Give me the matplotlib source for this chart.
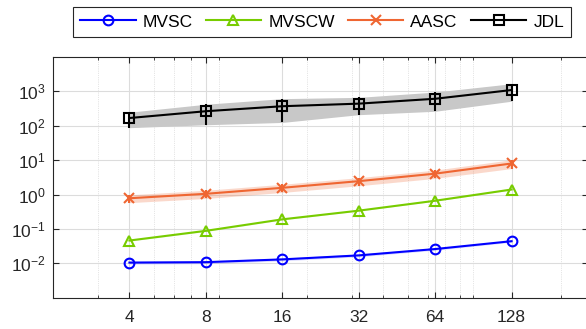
import numpy as np
import matplotlib

matplotlib.use("Agg")
import matplotlib.pyplot as plt
from matplotlib.ticker import LogLocator, NullFormatter, FixedLocator, FixedFormatter

plt.rcParams["font.family"] = ["Liberation Sans", "DejaVu Sans"]
plt.rcParams["mathtext.fontset"] = "custom"
plt.rcParams["mathtext.rm"] = "Liberation Sans"
plt.rcParams["mathtext.default"] = "regular"

# number of views (x axis)
n_views = [4, 8, 16, 32, 64, 128]
x_labels = ["4", "8", "16", "32", "64", "128"]

# running time, mean and spread
mvsc = [0.0105, 0.0108, 0.013, 0.017, 0.026, 0.044]
mvsc_err = [0.001, 0.001, 0.0012, 0.0015, 0.002, 0.003]
mvscw = [0.046, 0.088, 0.19, 0.34, 0.66, 1.4]
mvscw_err = [0.002, 0.004, 0.008, 0.012, 0.02, 0.04]
aasc = [0.78, 1.05, 1.57, 2.45, 4.05, 8.0]
aasc_err = [0.2, 0.28, 0.42, 0.65, 1.1, 2.3]
jdl = [168, 265, 370, 440, 610, 1095]
jdl_err = [80, 158, 245, 230, 346, 577]

series = [
    ("MVSC", mvsc, mvsc_err, "#0000ff", "o", "#0000ff", 0.15),
    ("MVSCW", mvscw, mvscw_err, "#77cc00", "^", "#77cc00", 0.15),
    ("AASC", aasc, aasc_err, "#ef6632", "x", "#ef6632", 0.25),
    ("JDL", jdl, jdl_err, "#000000", "s", "#c8c8c8", 1.0),
]

ax_col = "#262626"
fig = plt.figure(figsize=(5.86, 3.29), dpi=100)
ax = fig.add_axes([53 / 586, 31.3 / 329, 535 / 586, 240.7 / 329])

x = np.array(n_views)
for name, mean, err, col, mk, band, alpha in series:
    mean = np.array(mean)
    err = np.array(err)
    ax.fill_between(x, mean - err, mean + err, color=band, alpha=alpha,
                    linewidth=0, zorder=2)
    if name == "JDL" or name == "AASC":
        ax.errorbar(x, mean, yerr=err, fmt="none", ecolor=col, elinewidth=1.5,
                    capsize=0, zorder=3)
    ax.plot(x, mean, color=col, marker=mk, markersize=7,
            markerfacecolor="none", markeredgewidth=1.5, linewidth=1.5,
            label=name, zorder=4)

ax.set_xscale("log")
ax.set_yscale("log")
ax.set_xlim(2, 256)
ax.set_ylim(1e-3, 1e4)

ax.xaxis.set_major_locator(FixedLocator(n_views))
ax.xaxis.set_major_formatter(FixedFormatter(x_labels))
ax.xaxis.set_minor_locator(LogLocator(base=10, subs=np.arange(2, 10)))
ax.xaxis.set_minor_formatter(NullFormatter())
ax.set_yticks([1e-2, 1e-1, 1e0, 1e1, 1e2, 1e3])
ax.set_yticklabels(["$10^{-2}$", "$10^{-1}$", "$10^{0}$", "$10^{1}$",
                    "$10^{2}$", "$10^{3}$"])
ax.yaxis.set_minor_locator(LogLocator(base=10, subs=np.arange(2, 10)))
ax.yaxis.set_minor_formatter(NullFormatter())

ax.grid(True, which="major", color="#dcdcdc", linewidth=0.8, linestyle="-", zorder=0)
ax.grid(True, which="minor", color="#cccccc", linewidth=0.5, linestyle=":", zorder=0)
ax.set_axisbelow(True)

ax.tick_params(which="both", direction="in", top=True, right=True, colors=ax_col,
               labelsize=12.5)
ax.tick_params(which="major", length=4, width=0.8)
ax.tick_params(which="minor", length=2, width=0.6)
ax.tick_params(axis="x", pad=9)
ax.tick_params(axis="y", pad=5)
for s in ax.spines.values():
    s.set_color(ax_col)
    s.set_linewidth(0.8)

leg = fig.legend(loc="center", ncol=4, mode="expand",
                 bbox_to_anchor=(73 / 586, 1 - 38 / 329, 498 / 586, 32 / 329),
                 fontsize=12.5, handlelength=3.2, handletextpad=0.4,
                 columnspacing=0.8, borderaxespad=0, fancybox=False,
                 framealpha=1, edgecolor=ax_col, borderpad=0.4)
leg.get_frame().set_linewidth(0.8)

fig.savefig("out.png", dpi=100)
